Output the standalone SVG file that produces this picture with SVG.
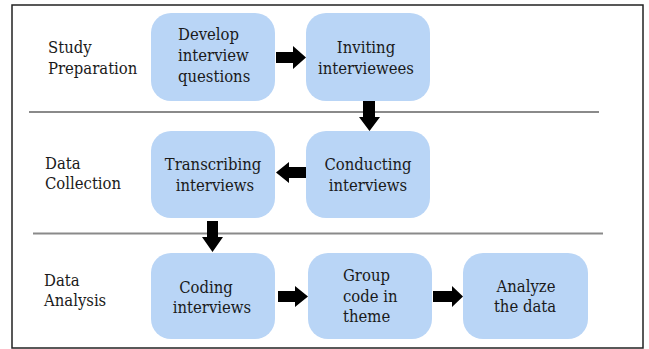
<svg xmlns="http://www.w3.org/2000/svg" width="649" height="349" viewBox="0 0 649 349">
<style>
.box{fill:#b9d5f6;}
text{font-family:'DejaVu Serif', serif;font-stretch:condensed;font-size:16.5px;fill:#1a1a1a;}
.c{text-anchor:middle;}
.sep{stroke:#8a8a8a;stroke-width:2;}
.arr{fill:#000;}
</style>
<rect x="12" y="5" width="631" height="343" fill="#fff" stroke="#222" stroke-width="1.5"/>
<g id="separators">
<line class="sep" x1="29" y1="112" x2="599" y2="112"/>
<line class="sep" x1="33" y1="233.5" x2="603" y2="233.5"/>
</g>
<g id="lane-labels">
<text x="48" y="53">Study</text>
<text x="48" y="74">Preparation</text>
<text x="45" y="169">Data</text>
<text x="45" y="189">Collection</text>
<text x="44" y="286">Data</text>
<text x="44" y="306">Analysis</text>
</g>
<g id="develop">
<rect class="box" x="151" y="13" width="124" height="88" rx="20"/>
<text x="178" y="40">Develop</text>
<text x="178" y="61">interview</text>
<text x="178" y="82">questions</text>
</g>
<g id="inviting">
<rect class="box" x="306" y="13" width="124" height="88" rx="20"/>
<text class="c" x="366" y="53">Inviting</text>
<text class="c" x="366" y="74">interviewees</text>
</g>
<g id="transcribing">
<rect class="box" x="151" y="131" width="124" height="87" rx="20"/>
<text class="c" x="213" y="170">Transcribing</text>
<text class="c" x="215" y="191">interviews</text>
</g>
<g id="conducting">
<rect class="box" x="306" y="131" width="124" height="87" rx="20"/>
<text class="c" x="368" y="170">Conducting</text>
<text class="c" x="368" y="191">interviews</text>
</g>
<g id="coding">
<rect class="box" x="151" y="253" width="124" height="86" rx="20"/>
<text class="c" x="206" y="293">Coding</text>
<text class="c" x="212" y="313">interviews</text>
</g>
<g id="group">
<rect class="box" x="308" y="253" width="124" height="86" rx="20"/>
<text x="343" y="281">Group</text>
<text x="343" y="302">code in</text>
<text x="343" y="322">theme</text>
</g>
<g id="analyze">
<rect class="box" x="463" y="253" width="125" height="86" rx="20"/>
<text class="c" x="526" y="292">Analyze</text>
<text class="c" x="525" y="312">the data</text>
</g>
<g id="connectors">
<polygon class="arr" points="276,52 293,52 293,46 306,57.5 293,69 293,63 276,63"/>
<polygon class="arr" points="363,101 375,101 375,117 380,117 369.5,131 359,117 363,117"/>
<polygon class="arr" points="306,167 289,167 289,162 276,172.5 289,183 289,178 306,178"/>
<polygon class="arr" points="207,221 218,221 218,237 223,237 212.5,252 202,237 207,237"/>
<polygon class="arr" points="278,291 295,291 295,286 308,296.5 295,307 295,302 278,302"/>
<polygon class="arr" points="433,291 452,291 452,286 463,296.5 452,307 452,302 433,302"/>
</g>
</svg>
